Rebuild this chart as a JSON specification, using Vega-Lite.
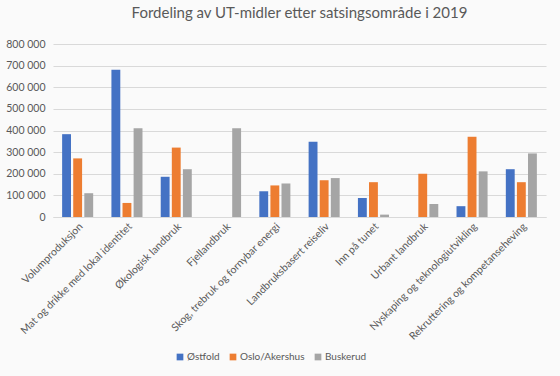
{
  "$schema": "https://vega.github.io/schema/vega-lite/v6.json",
  "width": 493,
  "height": 173,
  "autosize": "none",
  "padding": {"left": 53, "top": 44, "right": 14, "bottom": 159},
  "background": "#fafafa",
  "title": {
    "text": "Fordeling av UT-midler etter satsingsområde i 2019",
    "fontSize": 15,
    "font": "Lato",
    "fontWeight": "normal",
    "color": "#595959",
    "anchor": "middle",
    "frame": "group",
    "offset": 18
  },
  "data": {
    "values": [
      {"k": "Volumproduksjon", "f": "Østfold", "v": 383000},
      {"k": "Volumproduksjon", "f": "Oslo/Akershus", "v": 271000},
      {"k": "Volumproduksjon", "f": "Buskerud", "v": 110000},
      {"k": "Mat og drikke med lokal identitet", "f": "Østfold", "v": 681000},
      {"k": "Mat og drikke med lokal identitet", "f": "Oslo/Akershus", "v": 65000},
      {"k": "Mat og drikke med lokal identitet", "f": "Buskerud", "v": 410000},
      {"k": "Økologisk landbruk", "f": "Østfold", "v": 186000},
      {"k": "Økologisk landbruk", "f": "Oslo/Akershus", "v": 321000},
      {"k": "Økologisk landbruk", "f": "Buskerud", "v": 221000},
      {"k": "Fjellandbruk", "f": "Østfold", "v": 0},
      {"k": "Fjellandbruk", "f": "Oslo/Akershus", "v": 0},
      {"k": "Fjellandbruk", "f": "Buskerud", "v": 410000},
      {"k": "Skog, trebruk og fornybar energi", "f": "Østfold", "v": 119000},
      {"k": "Skog, trebruk og fornybar energi", "f": "Oslo/Akershus", "v": 146000},
      {"k": "Skog, trebruk og fornybar energi", "f": "Buskerud", "v": 155000},
      {"k": "Landbruksbasert reiseliv", "f": "Østfold", "v": 348000},
      {"k": "Landbruksbasert reiseliv", "f": "Oslo/Akershus", "v": 170000},
      {"k": "Landbruksbasert reiseliv", "f": "Buskerud", "v": 180000},
      {"k": "Inn på tunet", "f": "Østfold", "v": 88000},
      {"k": "Inn på tunet", "f": "Oslo/Akershus", "v": 161000},
      {"k": "Inn på tunet", "f": "Buskerud", "v": 11000},
      {"k": "Urbant landbruk", "f": "Østfold", "v": 0},
      {"k": "Urbant landbruk", "f": "Oslo/Akershus", "v": 200000},
      {"k": "Urbant landbruk", "f": "Buskerud", "v": 60000},
      {"k": "Nyskaping og teknologiutvikling", "f": "Østfold", "v": 50000},
      {"k": "Nyskaping og teknologiutvikling", "f": "Oslo/Akershus", "v": 371000},
      {"k": "Nyskaping og teknologiutvikling", "f": "Buskerud", "v": 211000},
      {"k": "Rekruttering og kompetanseheving", "f": "Østfold", "v": 221000},
      {"k": "Rekruttering og kompetanseheving", "f": "Oslo/Akershus", "v": 161000},
      {"k": "Rekruttering og kompetanseheving", "f": "Buskerud", "v": 294000}
    ]
  },
  "mark": {"type": "bar"},
  "encoding": {
    "x": {
      "field": "k",
      "type": "nominal",
      "sort": null,
      "title": null,
      "scale": {"paddingInner": 0.37, "paddingOuter": 0.185},
      "axis": {
        "labelAngle": -45,
        "labelAlign": "right",
        "labelBaseline": "top",
        "labelFontSize": 10.5,
        "labelColor": "#595959",
        "labelFont": "Lato",
        "ticks": false,
        "domainColor": "#d9d9d9",
        "labelPadding": 4,
        "labelLimit": 300
      }
    },
    "xOffset": {
      "field": "f",
      "type": "nominal",
      "sort": ["Østfold", "Oslo/Akershus", "Buskerud"],
      "scale": {"paddingInner": 0.2}
    },
    "y": {
      "field": "v",
      "type": "quantitative",
      "title": null,
      "scale": {"domain": [0, 800000]},
      "axis": {
        "values": [0, 100000, 200000, 300000, 400000, 500000, 600000, 700000, 800000],
        "labelExpr": "replace(format(datum.value, ','), ',', ' ')",
        "labelFontSize": 10.5,
        "labelColor": "#595959",
        "labelFont": "Lato",
        "ticks": false,
        "domain": false,
        "gridColor": "#d9d9d9",
        "labelPadding": 8
      }
    },
    "color": {
      "field": "f",
      "type": "nominal",
      "sort": ["Østfold", "Oslo/Akershus", "Buskerud"],
      "scale": {
        "domain": ["Østfold", "Oslo/Akershus", "Buskerud"],
        "range": ["#4472c4", "#ed7d31", "#a5a5a5"]
      },
      "legend": {
        "orient": "none",
        "legendX": 122,
        "legendY": 308,
        "direction": "horizontal",
        "title": null,
        "symbolType": "square",
        "symbolSize": 45,
        "symbolStrokeWidth": 0,
        "labelFontSize": 10,
        "labelColor": "#595959",
        "labelFont": "Lato",
        "labelOffset": 2,
        "columnPadding": 8,
        "gridAlign": "none"
      }
    }
  },
  "config": {
    "view": {"stroke": null}
  }
}
